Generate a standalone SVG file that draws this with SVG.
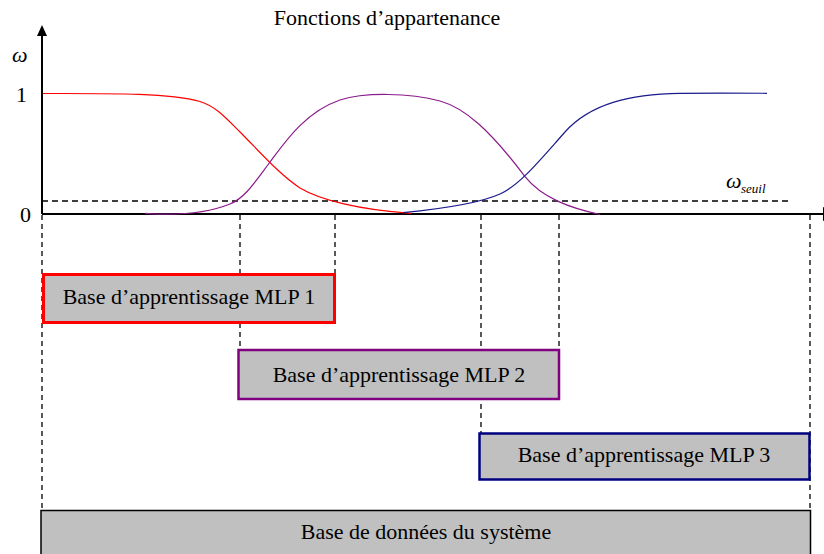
<svg xmlns="http://www.w3.org/2000/svg" width="824" height="554" viewBox="0 0 824 554">
<style>
  .t { font-size: 22px; fill: #000; }
  .box { fill: #c0c0c0; }
  .vd { stroke: #000; stroke-width: 1.3; stroke-dasharray: 5 4; fill: none; }
  .curve { fill: none; stroke-width: 1.2; }
</style>
<rect width="824" height="554" fill="#fff"/>
<g id="connectors">
  <line class="vd" x1="42" y1="215" x2="42" y2="510"/>
  <line class="vd" x1="240" y1="215" x2="240" y2="349"/>
  <line class="vd" x1="335" y1="215" x2="335" y2="274"/>
  <line class="vd" x1="481" y1="215" x2="481" y2="433"/>
  <line class="vd" x1="559" y1="215" x2="559" y2="349"/>
  <line class="vd" x1="810" y1="215" x2="810" y2="510"/>
</g>
<g id="axes" font-family="'Liberation Serif', 'DejaVu Serif', 'Times New Roman', serif">
  <line x1="42" y1="214" x2="42" y2="33" stroke="#000" stroke-width="2"/>
  <polygon points="42,25 37,36 47,36" fill="#000"/>
  <line x1="42" y1="214" x2="824" y2="214" stroke="#000" stroke-width="2"/>
  <polygon points="823,207 836,214 823,221" fill="#000"/>
  <line x1="42" y1="201" x2="792" y2="201" stroke="#000" stroke-width="1.5" stroke-dasharray="6 4"/>
  <text x="12" y="62" font-size="22" font-style="italic">ω</text>
  <text class="t" x="16" y="102">1</text>
  <text class="t" x="20" y="222">0</text>
  <text x="726" y="188" font-size="22" font-style="italic">ω</text>
  <text x="741" y="193" font-size="13" font-style="italic">seuil</text>
  <text class="t" x="387" y="25" text-anchor="middle">Fonctions d’appartenance</text>
</g>
<g id="curves">
  <path class="curve" stroke="#ff0000" d="M43,93.5 C120,93.3 170,93.5 200,101.5 C215,106 225,117 240,132 C260,152 280,175 300,188 C320,200 360,210 411,213.3"/>
  <path class="curve" stroke="#8b1a8b" d="M145,213.3 C175,215.5 205,214 230,204 C245,198 255,182 270,162 C285,142 305,112 340,100 C365,92 410,93 440,101 C465,108 490,130 525,176.7 C542,198 570,208 600,214.5"/>
  <path class="curve" stroke="#1a1a8c" d="M403,212.7 C440,209 480,203 500,194 C520,185 540,160 565,132 C590,104 630,94 680,93.3 C720,92.8 740,93 767,93.3"/>
</g>
<g id="mlp1" font-family="'Liberation Serif', 'DejaVu Serif', 'Times New Roman', serif">
  <rect class="box" x="43.5" y="274.5" width="291" height="48" stroke="#ff0000" stroke-width="3"/>
  <text class="t" x="189" y="304" text-anchor="middle">Base d’apprentissage MLP 1</text>
</g>
<g id="mlp2" font-family="'Liberation Serif', 'DejaVu Serif', 'Times New Roman', serif">
  <rect class="box" x="238.5" y="350" width="320.5" height="49" stroke="#800080" stroke-width="2.5"/>
  <text class="t" x="399" y="382" text-anchor="middle">Base d’apprentissage MLP 2</text>
</g>
<g id="mlp3" font-family="'Liberation Serif', 'DejaVu Serif', 'Times New Roman', serif">
  <rect class="box" x="479.5" y="433.5" width="330" height="46" stroke="#000080" stroke-width="2.5"/>
  <text class="t" x="644" y="462" text-anchor="middle">Base d’apprentissage MLP 3</text>
</g>
<g id="base" font-family="'Liberation Serif', 'DejaVu Serif', 'Times New Roman', serif">
  <rect class="box" x="41" y="510.5" width="769.5" height="50" stroke="#000" stroke-width="1.5"/>
  <text class="t" x="426" y="539" text-anchor="middle">Base de données du système</text>
</g>
</svg>
